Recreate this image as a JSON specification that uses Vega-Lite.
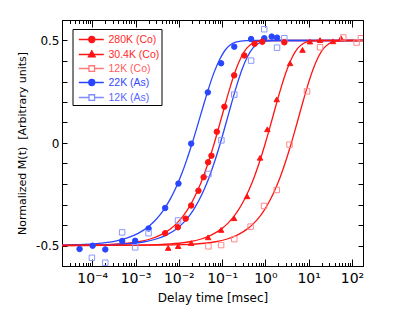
{
  "$schema": "https://vega.github.io/schema/vega-lite/v6.json",
  "autosize": "none",
  "width": 301,
  "height": 246,
  "padding": {"left": 62, "top": 20, "right": 46, "bottom": 50},
  "background": "white",
  "config": {
    "font": "DejaVu Sans",
    "view": {"stroke": "black", "strokeWidth": 1},
    "axis": {"domainColor": "black", "tickColor": "black", "labelColor": "black", "titleColor": "black", "grid": false}
  },
  "datasets": {
    "series": [
      {"s": "280K (Co)"}, {"s": "30.4K (Co)"}, {"s": "12K (Co)"}, {"s": "22K (As)"}, {"s": "12K (As)"}
    ],
    "curves": [
      {"s": "22K (As)", "t": 2e-5, "m": -0.498},
      {"s": "22K (As)", "t": 6.46e-5, "m": -0.495},
      {"s": "22K (As)", "t": 2.04e-4, "m": -0.486},
      {"s": "22K (As)", "t": 3.63e-4, "m": -0.477},
      {"s": "22K (As)", "t": 6.46e-4, "m": -0.463},
      {"s": "22K (As)", "t": 1.148e-3, "m": -0.441},
      {"s": "22K (As)", "t": 2.04e-3, "m": -0.406},
      {"s": "22K (As)", "t": 2.72e-3, "m": -0.382},
      {"s": "22K (As)", "t": 3.63e-3, "m": -0.352},
      {"s": "22K (As)", "t": 4.84e-3, "m": -0.315},
      {"s": "22K (As)", "t": 6.46e-3, "m": -0.270},
      {"s": "22K (As)", "t": 8.61e-3, "m": -0.217},
      {"s": "22K (As)", "t": 0.01148, "m": -0.154},
      {"s": "22K (As)", "t": 0.01531, "m": -0.081},
      {"s": "22K (As)", "t": 0.0204, "m": 0.0},
      {"s": "22K (As)", "t": 0.0272, "m": 0.087},
      {"s": "22K (As)", "t": 0.0363, "m": 0.177},
      {"s": "22K (As)", "t": 0.0484, "m": 0.264},
      {"s": "22K (As)", "t": 0.0646, "m": 0.342},
      {"s": "22K (As)", "t": 0.0861, "m": 0.404},
      {"s": "22K (As)", "t": 0.1148, "m": 0.450},
      {"s": "22K (As)", "t": 0.1531, "m": 0.478},
      {"s": "22K (As)", "t": 0.204, "m": 0.492},
      {"s": "22K (As)", "t": 0.363, "m": 0.4995},
      {"s": "22K (As)", "t": 0.646, "m": 0.5},
      {"s": "22K (As)", "t": 180, "m": 0.5},

      {"s": "280K (Co)", "t": 2e-5, "m": -0.4996},
      {"s": "280K (Co)", "t": 6.61e-5, "m": -0.4986},
      {"s": "280K (Co)", "t": 2.09e-4, "m": -0.4961},
      {"s": "280K (Co)", "t": 6.61e-4, "m": -0.4891},
      {"s": "280K (Co)", "t": 1.175e-3, "m": -0.4817},
      {"s": "280K (Co)", "t": 2.09e-3, "m": -0.4695},
      {"s": "280K (Co)", "t": 3.72e-3, "m": -0.4494},
      {"s": "280K (Co)", "t": 6.61e-3, "m": -0.4165},
      {"s": "280K (Co)", "t": 8.81e-3, "m": -0.3931},
      {"s": "280K (Co)", "t": 0.01175, "m": -0.3637},
      {"s": "280K (Co)", "t": 0.01567, "m": -0.3271},
      {"s": "280K (Co)", "t": 0.0209, "m": -0.2820},
      {"s": "280K (Co)", "t": 0.02786, "m": -0.2272},
      {"s": "280K (Co)", "t": 0.03715, "m": -0.1618},
      {"s": "280K (Co)", "t": 0.04955, "m": -0.0857},
      {"s": "280K (Co)", "t": 0.0661, "m": 0.0},
      {"s": "280K (Co)", "t": 0.0881, "m": 0.0926},
      {"s": "280K (Co)", "t": 0.1175, "m": 0.1877},
      {"s": "280K (Co)", "t": 0.1567, "m": 0.2786},
      {"s": "280K (Co)", "t": 0.209, "m": 0.3581},
      {"s": "280K (Co)", "t": 0.2786, "m": 0.4204},
      {"s": "280K (Co)", "t": 0.3715, "m": 0.4624},
      {"s": "280K (Co)", "t": 0.4955, "m": 0.4857},
      {"s": "280K (Co)", "t": 0.661, "m": 0.4959},
      {"s": "280K (Co)", "t": 1.175, "m": 0.4999},
      {"s": "280K (Co)", "t": 2.09, "m": 0.5},
      {"s": "280K (Co)", "t": 180, "m": 0.5},

      {"s": "12K (As)", "t": 2e-5, "m": -0.4996},
      {"s": "12K (As)", "t": 9.12e-5, "m": -0.4986},
      {"s": "12K (As)", "t": 2.88e-4, "m": -0.4961},
      {"s": "12K (As)", "t": 9.12e-4, "m": -0.4891},
      {"s": "12K (As)", "t": 1.622e-3, "m": -0.4817},
      {"s": "12K (As)", "t": 2.88e-3, "m": -0.4695},
      {"s": "12K (As)", "t": 5.13e-3, "m": -0.4494},
      {"s": "12K (As)", "t": 9.12e-3, "m": -0.4165},
      {"s": "12K (As)", "t": 0.01216, "m": -0.3931},
      {"s": "12K (As)", "t": 0.01622, "m": -0.3637},
      {"s": "12K (As)", "t": 0.02163, "m": -0.3271},
      {"s": "12K (As)", "t": 0.02884, "m": -0.2820},
      {"s": "12K (As)", "t": 0.03846, "m": -0.2272},
      {"s": "12K (As)", "t": 0.05129, "m": -0.1618},
      {"s": "12K (As)", "t": 0.0684, "m": -0.0857},
      {"s": "12K (As)", "t": 0.0912, "m": 0.0},
      {"s": "12K (As)", "t": 0.1216, "m": 0.0926},
      {"s": "12K (As)", "t": 0.1622, "m": 0.1877},
      {"s": "12K (As)", "t": 0.2163, "m": 0.2786},
      {"s": "12K (As)", "t": 0.2884, "m": 0.3581},
      {"s": "12K (As)", "t": 0.3846, "m": 0.4204},
      {"s": "12K (As)", "t": 0.5129, "m": 0.4624},
      {"s": "12K (As)", "t": 0.684, "m": 0.4857},
      {"s": "12K (As)", "t": 0.912, "m": 0.4959},
      {"s": "12K (As)", "t": 1.622, "m": 0.4999},
      {"s": "12K (As)", "t": 2.884, "m": 0.5},
      {"s": "12K (As)", "t": 180, "m": 0.5},

      {"s": "30.4K (Co)", "t": 2e-5, "m": -0.5},
      {"s": "30.4K (Co)", "t": 0.001, "m": -0.4986},
      {"s": "30.4K (Co)", "t": 0.00316, "m": -0.4961},
      {"s": "30.4K (Co)", "t": 0.01, "m": -0.4891},
      {"s": "30.4K (Co)", "t": 0.01778, "m": -0.4817},
      {"s": "30.4K (Co)", "t": 0.0316, "m": -0.4695},
      {"s": "30.4K (Co)", "t": 0.0562, "m": -0.4494},
      {"s": "30.4K (Co)", "t": 0.1, "m": -0.4165},
      {"s": "30.4K (Co)", "t": 0.1334, "m": -0.3931},
      {"s": "30.4K (Co)", "t": 0.1778, "m": -0.3637},
      {"s": "30.4K (Co)", "t": 0.2371, "m": -0.3271},
      {"s": "30.4K (Co)", "t": 0.3162, "m": -0.2820},
      {"s": "30.4K (Co)", "t": 0.4217, "m": -0.2272},
      {"s": "30.4K (Co)", "t": 0.5623, "m": -0.1618},
      {"s": "30.4K (Co)", "t": 0.7499, "m": -0.0857},
      {"s": "30.4K (Co)", "t": 1.0, "m": 0.0},
      {"s": "30.4K (Co)", "t": 1.334, "m": 0.0926},
      {"s": "30.4K (Co)", "t": 1.778, "m": 0.1877},
      {"s": "30.4K (Co)", "t": 2.371, "m": 0.2786},
      {"s": "30.4K (Co)", "t": 3.162, "m": 0.3581},
      {"s": "30.4K (Co)", "t": 4.217, "m": 0.4204},
      {"s": "30.4K (Co)", "t": 5.623, "m": 0.4624},
      {"s": "30.4K (Co)", "t": 7.499, "m": 0.4857},
      {"s": "30.4K (Co)", "t": 10, "m": 0.4959},
      {"s": "30.4K (Co)", "t": 17.78, "m": 0.4999},
      {"s": "30.4K (Co)", "t": 31.62, "m": 0.5},
      {"s": "30.4K (Co)", "t": 180, "m": 0.5},

      {"s": "12K (Co)", "t": 2e-5, "m": -0.5},
      {"s": "12K (Co)", "t": 0.00398, "m": -0.4986},
      {"s": "12K (Co)", "t": 0.01259, "m": -0.4961},
      {"s": "12K (Co)", "t": 0.0398, "m": -0.4891},
      {"s": "12K (Co)", "t": 0.0708, "m": -0.4817},
      {"s": "12K (Co)", "t": 0.1259, "m": -0.4695},
      {"s": "12K (Co)", "t": 0.2239, "m": -0.4494},
      {"s": "12K (Co)", "t": 0.398, "m": -0.4165},
      {"s": "12K (Co)", "t": 0.531, "m": -0.3931},
      {"s": "12K (Co)", "t": 0.708, "m": -0.3637},
      {"s": "12K (Co)", "t": 0.944, "m": -0.3271},
      {"s": "12K (Co)", "t": 1.259, "m": -0.2820},
      {"s": "12K (Co)", "t": 1.679, "m": -0.2272},
      {"s": "12K (Co)", "t": 2.239, "m": -0.1618},
      {"s": "12K (Co)", "t": 2.985, "m": -0.0857},
      {"s": "12K (Co)", "t": 3.981, "m": 0.0},
      {"s": "12K (Co)", "t": 5.31, "m": 0.0926},
      {"s": "12K (Co)", "t": 7.08, "m": 0.1877},
      {"s": "12K (Co)", "t": 9.44, "m": 0.2786},
      {"s": "12K (Co)", "t": 12.59, "m": 0.3581},
      {"s": "12K (Co)", "t": 16.79, "m": 0.4204},
      {"s": "12K (Co)", "t": 22.39, "m": 0.4624},
      {"s": "12K (Co)", "t": 29.85, "m": 0.4857},
      {"s": "12K (Co)", "t": 39.81, "m": 0.4959},
      {"s": "12K (Co)", "t": 70.8, "m": 0.4999},
      {"s": "12K (Co)", "t": 125.9, "m": 0.5},
      {"s": "12K (Co)", "t": 180, "m": 0.5}
    ],
    "pts": [
      {"g": "22K (As)", "t": 5.09e-5, "m": -0.517},
      {"g": "22K (As)", "t": 1.02e-4, "m": -0.501},
      {"g": "22K (As)", "t": 2.0e-4, "m": -0.519},
      {"g": "22K (As)", "t": 4.92e-4, "m": -0.478},
      {"g": "22K (As)", "t": 9.8e-4, "m": -0.477},
      {"g": "22K (As)", "t": 2.0e-3, "m": -0.417},
      {"g": "22K (As)", "t": 4.84e-3, "m": -0.317},
      {"g": "22K (As)", "t": 9.8e-3, "m": -0.198},
      {"g": "22K (As)", "t": 0.0193, "m": -0.003},
      {"g": "22K (As)", "t": 0.0468, "m": 0.247},
      {"g": "22K (As)", "t": 0.0948, "m": 0.389},
      {"g": "22K (As)", "t": 0.191, "m": 0.470},
      {"g": "22K (As)", "t": 0.468, "m": 0.507},
      {"g": "22K (As)", "t": 0.942, "m": 0.511},
      {"g": "22K (As)", "t": 1.40, "m": 0.519},
      {"g": "22K (As)", "t": 1.86, "m": 0.514},

      {"g": "12K (As)", "t": 9.8e-5, "m": -0.560},
      {"g": "12K (As)", "t": 2.0e-4, "m": -0.584},
      {"g": "12K (As)", "t": 4.9e-4, "m": -0.436},
      {"g": "12K (As)", "t": 9.8e-4, "m": -0.509},
      {"g": "12K (As)", "t": 2.0e-3, "m": -0.440},
      {"g": "12K (As)", "t": 9.6e-3, "m": -0.378},
      {"g": "12K (As)", "t": 0.0483, "m": -0.151},
      {"g": "12K (As)", "t": 0.0964, "m": 0.013},
      {"g": "12K (As)", "t": 0.191, "m": 0.236},
      {"g": "12K (As)", "t": 0.468, "m": 0.402},
      {"g": "12K (As)", "t": 0.94, "m": 0.555},
      {"g": "12K (As)", "t": 1.86, "m": 0.465},
      {"g": "12K (As)", "t": 2.74, "m": 0.511},

      {"g": "280K (Co)", "t": 4.84e-3, "m": -0.440},
      {"g": "280K (Co)", "t": 9.5e-3, "m": -0.411},
      {"g": "280K (Co)", "t": 0.0144, "m": -0.369},
      {"g": "280K (Co)", "t": 0.0193, "m": -0.305},
      {"g": "280K (Co)", "t": 0.0284, "m": -0.233},
      {"g": "280K (Co)", "t": 0.0374, "m": -0.167},
      {"g": "280K (Co)", "t": 0.0475, "m": -0.094},
      {"g": "280K (Co)", "t": 0.0567, "m": -0.062},
      {"g": "280K (Co)", "t": 0.0755, "m": 0.055},
      {"g": "280K (Co)", "t": 0.113, "m": 0.177},
      {"g": "280K (Co)", "t": 0.19, "m": 0.330},
      {"g": "280K (Co)", "t": 0.326, "m": 0.427},
      {"g": "280K (Co)", "t": 0.562, "m": 0.484},
      {"g": "280K (Co)", "t": 0.85, "m": 0.494},
      {"g": "280K (Co)", "t": 2.74, "m": 0.491},

      {"g": "30.4K (Co)", "t": 5.68e-3, "m": -0.512},
      {"g": "30.4K (Co)", "t": 9.66e-3, "m": -0.503},
      {"g": "30.4K (Co)", "t": 0.0193, "m": -0.488},
      {"g": "30.4K (Co)", "t": 0.0475, "m": -0.460},
      {"g": "30.4K (Co)", "t": 0.0948, "m": -0.424},
      {"g": "30.4K (Co)", "t": 0.189, "m": -0.367},
      {"g": "30.4K (Co)", "t": 0.378, "m": -0.260},
      {"g": "30.4K (Co)", "t": 0.753, "m": -0.072},
      {"g": "30.4K (Co)", "t": 1.11, "m": 0.067},
      {"g": "30.4K (Co)", "t": 1.83, "m": 0.213},
      {"g": "30.4K (Co)", "t": 3.72, "m": 0.389},
      {"g": "30.4K (Co)", "t": 7.2, "m": 0.454},
      {"g": "30.4K (Co)", "t": 10.7, "m": 0.495},
      {"g": "30.4K (Co)", "t": 18.3, "m": 0.502},
      {"g": "30.4K (Co)", "t": 36.5, "m": 0.496},
      {"g": "30.4K (Co)", "t": 55.7, "m": 0.511},

      {"g": "12K (Co)", "t": 0.0483, "m": -0.504},
      {"g": "12K (Co)", "t": 0.0948, "m": -0.498},
      {"g": "12K (Co)", "t": 0.191, "m": -0.469},
      {"g": "12K (Co)", "t": 0.455, "m": -0.408},
      {"g": "12K (Co)", "t": 0.932, "m": -0.307},
      {"g": "12K (Co)", "t": 1.83, "m": -0.229},
      {"g": "12K (Co)", "t": 3.61, "m": -0.008},
      {"g": "12K (Co)", "t": 9.16, "m": 0.252},
      {"g": "12K (Co)", "t": 18.3, "m": 0.467},
      {"g": "12K (Co)", "t": 63, "m": 0.515},
      {"g": "12K (Co)", "t": 128, "m": 0.490},
      {"g": "12K (Co)", "t": 161, "m": 0.511}
    ]
  },
  "resolve": {
    "axis": {"x": "independent", "y": "independent"},
    "scale": {"shape": "independent", "fill": "independent", "stroke": "independent"}
  },
  "layer": [
    {
      "data": {"name": "curves"},
      "mark": {"type": "line", "strokeWidth": 1.3, "interpolate": "monotone", "clip": true},
      "encoding": {
        "x": {
          "field": "t", "type": "quantitative",
          "scale": {"type": "log", "domain": [2e-5, 180], "nice": false},
          "axis": {
            "orient": "bottom",
            "values": [3e-5,4e-5,5e-5,6e-5,7e-5,8e-5,9e-5,0.0001,0.0002,0.0003,0.0004,0.0005,0.0006,0.0007,0.0008,0.0009,0.001,0.002,0.003,0.004,0.005,0.006,0.007,0.008,0.009,0.01,0.02,0.03,0.04,0.05,0.06,0.07,0.08,0.09,0.1,0.2,0.3,0.4,0.5,0.6,0.7,0.8,0.9,1,2,3,4,5,6,7,8,9,10,20,30,40,50,60,70,80,90,100],
            "labelExpr": "datum.value == 0.0001 ? '10⁻⁴' : datum.value == 0.001 ? '10⁻³' : datum.value == 0.01 ? '10⁻²' : datum.value == 0.1 ? '10⁻¹' : datum.value == 1 ? '10⁰' : datum.value == 10 ? '10¹' : datum.value == 100 ? '10²' : ''",
            "tickSize": {"condition": {"test": "indexof([0.0001,0.001,0.01,0.1,1,10,100], datum.value) >= 0", "value": -7}, "value": -3.5},
            "labelOverlap": false,
            "labelFlush": false,
            "labelBound": false,
            "labelFont": "DejaVu Sans",
            "labelFontSize": 14,
            "labelPadding": 12,
            "title": "Delay time [msec]",
            "titleFont": "DejaVu Sans",
            "titleFontSize": 12,
            "titleFontWeight": "normal",
            "titlePadding": 4
          }
        },
        "y": {
          "field": "m", "type": "quantitative",
          "scale": {"domain": [-0.6, 0.6], "nice": false, "zero": false},
          "axis": {
            "orient": "left",
            "values": [-0.5,-0.4,-0.3,-0.2,-0.1,0,0.1,0.2,0.3,0.4,0.5],
            "labelExpr": "datum.value == 0.5 ? '0.5' : datum.value == 0 ? '0' : datum.value == -0.5 ? '-0.5' : ''",
            "tickSize": -5,
            "labelOverlap": false,
            "labelFont": "DejaVu Sans",
            "labelFontSize": 12,
            "labelPadding": 8,
            "title": "Normalized M(t)\u00a0 [Arbitrary units]",
            "titleFont": "DejaVu Sans",
            "titleFontSize": 11,
            "titleFontWeight": "normal",
            "titlePadding": 8
          }
        },
        "color": {
          "field": "s", "type": "nominal",
          "scale": {
            "domain": ["280K (Co)", "30.4K (Co)", "12K (Co)", "22K (As)", "12K (As)"],
            "range": ["#ff1414", "#ff1414", "#ff1414", "#2846ff", "#2846ff"]
          },
          "legend": null
        }
      }
    },
    {
      "data": {"name": "pts"},
      "mark": {"type": "point", "size": 30, "strokeWidth": 1, "opacity": 1, "clip": true},
      "encoding": {
        "x": {
          "field": "t", "type": "quantitative",
          "scale": {"type": "log", "domain": [2e-5, 180], "nice": false},
          "axis": {
            "orient": "top",
            "values": [3e-5,4e-5,5e-5,6e-5,7e-5,8e-5,9e-5,0.0001,0.0002,0.0003,0.0004,0.0005,0.0006,0.0007,0.0008,0.0009,0.001,0.002,0.003,0.004,0.005,0.006,0.007,0.008,0.009,0.01,0.02,0.03,0.04,0.05,0.06,0.07,0.08,0.09,0.1,0.2,0.3,0.4,0.5,0.6,0.7,0.8,0.9,1,2,3,4,5,6,7,8,9,10,20,30,40,50,60,70,80,90,100],
            "labels": false,
            "title": null,
            "tickSize": {"condition": {"test": "indexof([0.0001,0.001,0.01,0.1,1,10,100], datum.value) >= 0", "value": -7}, "value": -3.5}
          }
        },
        "y": {
          "field": "m", "type": "quantitative",
          "scale": {"domain": [-0.6, 0.6], "nice": false, "zero": false},
          "axis": {
            "orient": "right",
            "values": [-0.5,-0.4,-0.3,-0.2,-0.1,0,0.1,0.2,0.3,0.4,0.5],
            "labels": false,
            "title": null,
            "tickSize": -5
          }
        },
        "shape": {
          "field": "g", "type": "nominal",
          "scale": {
            "domain": ["280K (Co)", "30.4K (Co)", "12K (Co)", "22K (As)", "12K (As)"],
            "range": ["circle", "triangle-up", "square", "circle", "square"]
          },
          "legend": null
        },
        "fill": {
          "field": "g", "type": "nominal",
          "scale": {
            "domain": ["280K (Co)", "30.4K (Co)", "12K (Co)", "22K (As)", "12K (As)"],
            "range": ["#ff1414", "#ff1414", "rgba(255,255,255,0)", "#2846ff", "rgba(255,255,255,0)"]
          },
          "legend": null
        },
        "stroke": {
          "field": "g", "type": "nominal",
          "scale": {
            "domain": ["280K (Co)", "30.4K (Co)", "12K (Co)", "22K (As)", "12K (As)"],
            "range": ["#ff1414", "#ff1414", "#ff8a8a", "#2846ff", "#8a98ff"]
          },
          "legend": null
        }
      }
    },
    {
      "data": {"name": "series"},
      "mark": {"type": "point", "opacity": 0, "strokeWidth": 1.3},
      "encoding": {
        "shape": {
          "field": "s", "type": "nominal",
          "scale": {
            "domain": ["280K (Co)", "30.4K (Co)", "12K (Co)", "22K (As)", "12K (As)"],
            "range": [
              "M-0.56,0H2.77M0.77,0A0.4,0.4,0,1,1,1.57,0A0.4,0.4,0,1,1,0.77,0Z",
              "M-0.56,0H2.77M1.17,-0.5L1.62,0.3L0.72,0.3Z",
              "M-0.56,0H0.8M1.54,0H2.77M0.8,-0.37H1.54V0.37H0.8Z",
              "M-0.56,0H2.77M0.77,0A0.4,0.4,0,1,1,1.57,0A0.4,0.4,0,1,1,0.77,0Z",
              "M-0.56,0H0.8M1.54,0H2.77M0.8,-0.37H1.54V0.37H0.8Z"
            ]
          },
          "legend": {
            "orient": "none", "legendX": 10.5, "legendY": 9, "title": null, "padding": 2,
            "strokeColor": "black", "fillColor": "white",
            "symbolSize": 225, "symbolStrokeWidth": 1.3, "symbolOpacity": 1,
            "labelOffset": 17, "labelFont": "Liberation Sans", "labelFontSize": 10.5, "rowPadding": 0,
            "encode": {"labels": {"update": {"fill": {"signal": "datum.value == '12K (Co)' ? '#ff5c5c' : datum.value == '12K (As)' ? '#5a68ff' : indexof(datum.value, 'Co') >= 0 ? '#ff2a2a' : '#3447ff'"}}}}
          }
        },
        "fill": {
          "field": "s", "type": "nominal",
          "scale": {
            "domain": ["280K (Co)", "30.4K (Co)", "12K (Co)", "22K (As)", "12K (As)"],
            "range": ["#ff1414", "#ff1414", "white", "#2846ff", "white"]
          },
          "legend": {
            "orient": "none", "legendX": 10.5, "legendY": 9, "title": null, "padding": 2,
            "strokeColor": "black", "fillColor": "white",
            "symbolSize": 225, "symbolStrokeWidth": 1.3, "symbolOpacity": 1,
            "labelOffset": 17, "labelFont": "Liberation Sans", "labelFontSize": 10.5, "rowPadding": 0,
            "encode": {"labels": {"update": {"fill": {"signal": "datum.value == '12K (Co)' ? '#ff5c5c' : datum.value == '12K (As)' ? '#5a68ff' : indexof(datum.value, 'Co') >= 0 ? '#ff2a2a' : '#3447ff'"}}}}
          }
        },
        "stroke": {
          "field": "s", "type": "nominal",
          "scale": {
            "domain": ["280K (Co)", "30.4K (Co)", "12K (Co)", "22K (As)", "12K (As)"],
            "range": ["#ff1414", "#ff1414", "#ff7878", "#2846ff", "#7f8cff"]
          },
          "legend": {
            "orient": "none", "legendX": 10.5, "legendY": 9, "title": null, "padding": 2,
            "strokeColor": "black", "fillColor": "white",
            "symbolSize": 225, "symbolStrokeWidth": 1.3, "symbolOpacity": 1,
            "labelOffset": 17, "labelFont": "Liberation Sans", "labelFontSize": 10.5, "rowPadding": 0,
            "encode": {"labels": {"update": {"fill": {"signal": "datum.value == '12K (Co)' ? '#ff5c5c' : datum.value == '12K (As)' ? '#5a68ff' : indexof(datum.value, 'Co') >= 0 ? '#ff2a2a' : '#3447ff'"}}}}
          }
        }
      }
    }
  ]
}
